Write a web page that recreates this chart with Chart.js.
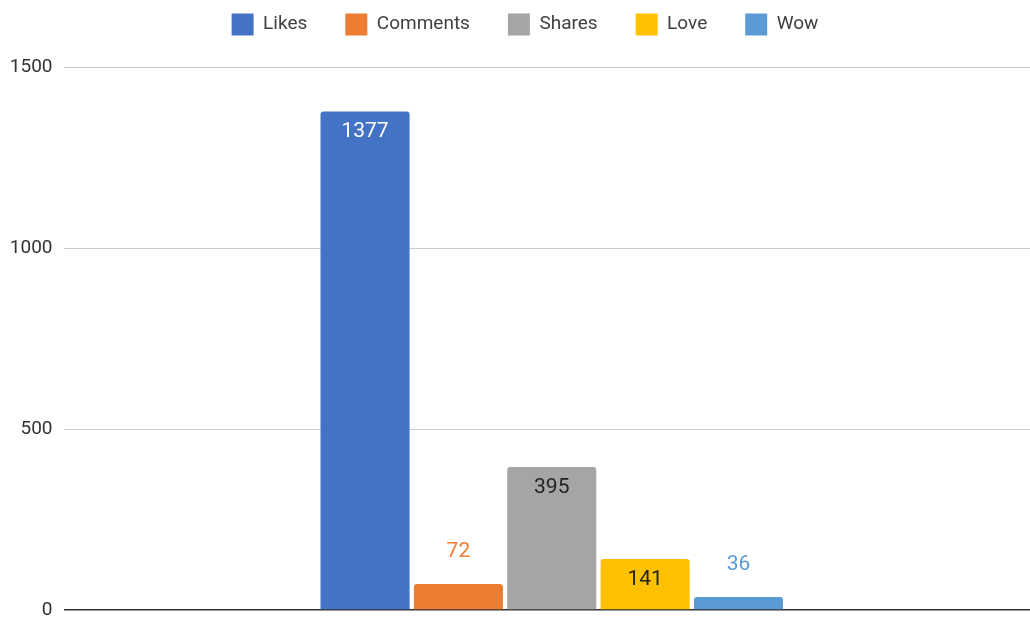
<!DOCTYPE html>
<html>
<head>
<meta charset="utf-8">
<script src="https://cdn.jsdelivr.net/npm/chart.js@4"></script>
<style>
    html, body { margin: 0; background: #fff; overflow: hidden; }
    /* plot area runs a little past the right edge, as in the original */
    #wrap { width: 1040px; height: 618px; }
</style>
</head>
<body>
<div id="wrap"><canvas id="reactionsChart"></canvas></div>
<script>
// Chart data
var categories = [''];
var seriesNames = ['Likes', 'Comments', 'Shares', 'Love', 'Wow'];
var seriesValues = [[1377], [72], [395], [141], [36]];
var seriesColors = ['#4472C4', '#ED7D31', '#A5A5A5', '#FFC000', '#5B9BD5'];
var labelColors = ['#ffffff', '#ED7D31', '#222222', '#222222', '#5B9BD5'];
var yTicks = [0, 500, 1000, 1500];

// Draw value labels inside tall bars, above short ones
var valueLabels = {
    id: 'valueLabels',
    afterDatasetsDraw: function(chart) {
        var ctx = chart.ctx;
        ctx.save();
        ctx.font = '21px Roboto';
        ctx.textAlign = 'center';
        ctx.textBaseline = 'middle';
        chart.data.datasets.forEach(function(ds, i) {
            var meta = chart.getDatasetMeta(i);
            meta.data.forEach(function(bar, j) {
                var h = bar.base - bar.y;
                var y = h > 40 ? bar.y + 20.5 : bar.y - 32.5;
                ctx.fillStyle = labelColors[i];
                ctx.fillText(ds.data[j], bar.x, y);
            });
        });
        ctx.restore();
    }
};

// Legend sits near the top, plot area starts lower
var legendSpace = {
    id: 'legendSpace',
    beforeUpdate: function(chart) {
        var legend = chart.legend;
        if (!legend || legend._patched) return;
        var fit = legend.fit;
        legend.fit = function() {
            fit.call(this);
            this.height = 91.5;
        };
        legend._patched = true;
    }
};

function loadBarChart() {
    var ctx = document.getElementById('reactionsChart').getContext('2d');
    var datasets = seriesNames.map(function(name, i) {
        return {
            label: name,
            data: seriesValues[i],
            backgroundColor: seriesColors[i],
            borderRadius: { topLeft: 3, topRight: 3 },
            borderSkipped: 'bottom',
            barPercentage: 0.954,
            categoryPercentage: 0.478
        };
    });
    new Chart(ctx, {
        type: 'bar',
        data: { labels: categories, datasets: datasets },
        options: {
            responsive: true,
            maintainAspectRatio: false,
            animation: false,
            layout: { padding: { left: 10, right: 0, bottom: 8, top: -24.5 } },
            plugins: {
                tooltip: { enabled: false },
                legend: {
                    position: 'top',
                    labels: {
                        font: { family: 'Roboto', size: 19 },
                        color: '#404040',
                        boxWidth: 22,
                        boxHeight: 22,
                        padding: 38
                    }
                }
            },
            scales: {
                x: { display: false },
                y: {
                    min: 0,
                    max: 1500,
                    afterBuildTicks: function(axis) {
                        axis.ticks = yTicks.map(function(v) { return { value: v }; });
                    },
                    afterFit: function(axis) {
                        axis.width = 53.5;
                        axis.paddingTop = 0;
                        axis.paddingBottom = 0;
                    },
                    ticks: {
                        font: { family: 'Roboto', size: 19 },
                        color: '#333',
                        padding: 11,
                        callback: function(v) { return String(v); }
                    },
                    grid: {
                        drawTicks: false,
                        color: function(c) { return c.tick && c.tick.value === 0 ? '#333' : '#ccc'; },
                        lineWidth: function(c) { return c.tick && c.tick.value === 0 ? 1.5 : 1; }
                    },
                    border: { display: false }
                }
            }
        },
        plugins: [valueLabels, legendSpace]
    });
}

window.onload = function() {
    loadBarChart();
};
</script>
</body>
</html>
